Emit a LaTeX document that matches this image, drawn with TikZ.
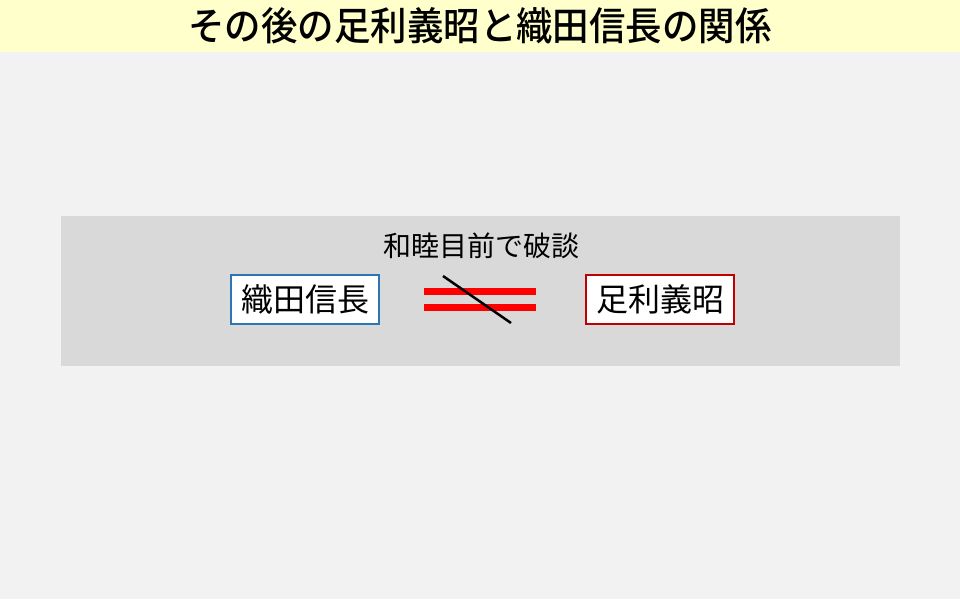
\documentclass[tikz,border=0pt]{standalone}
\usepackage{fontspec}
\usepackage{xcolor}
\usepackage{tikz}
\newfontfamily\jpfont{Noto Sans CJK JP}
\newfontfamily\jptitle{Noto Sans CJK JP Medium}
\definecolor{bandyellow}{HTML}{FFFFCC}
\definecolor{pagegray}{HTML}{F2F2F2}
\definecolor{panelgray}{HTML}{D9D9D9}
\definecolor{odablue}{HTML}{2E75B6}
\definecolor{ashired}{HTML}{C00000}
\tikzset{
  person/.style={draw, fill=white, line width=1.6pt, minimum width=148pt,
    minimum height=49pt, inner sep=0pt, font=\jpfont\fontsize{32}{32}\selectfont},
  bar/.style={red, line width=7pt}
}
\begin{document}
\begin{tikzpicture}[x=1pt,y=1pt]
\useasboundingbox (0,0) rectangle (960,-599);
\fill[pagegray] (0,0) rectangle (960,-599);
\fill[bandyellow] (0,0) rectangle (960,-52);
\node[xscale=0.935, font=\jptitle\fontsize{39}{39}\selectfont] (title) at (480,-26) {その後の足利義昭と織田信長の関係};
\fill[panelgray] (61,-216) rectangle (900,-366);
\node[font=\jpfont\fontsize{28}{28}\selectfont] (note) at (481,-246) {和睦目前で破談};
\node[person, draw=odablue] (oda) at (305,-299.5) {織田信長};
\node[person, draw=ashired] (ashikaga) at (660,-299.5) {足利義昭};
% broken alliance
\coordinate (eqA) at (424,-291);
\coordinate (eqB) at (536,-291);
\coordinate (eqC) at (424,-307);
\coordinate (eqD) at (536,-307);
\draw[bar] (eqA) -- (eqB);
\draw[bar] (eqC) -- (eqD);
\coordinate (cutA) at (443,-276);
\coordinate (cutB) at (511,-323);
\draw[line width=2.5pt] (cutA) -- (cutB);
\end{tikzpicture}
\end{document}
